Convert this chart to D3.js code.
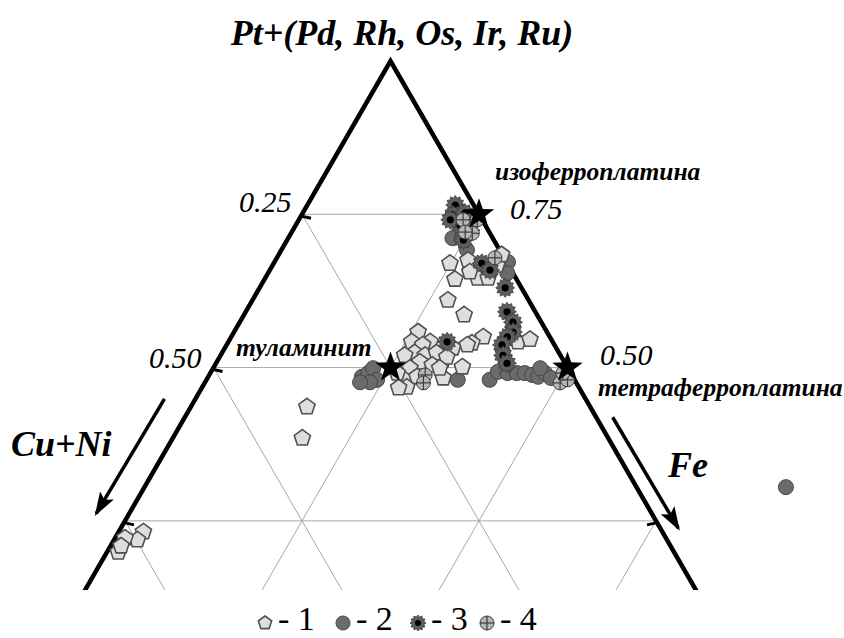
<!DOCTYPE html>
<html>
<head>
<meta charset="utf-8">
<script src="https://cdn.jsdelivr.net/npm/d3@7"></script>
<style>
    body { margin: 0; background: #fff; }
    text { font-family: "Liberation Serif", "Times New Roman", serif; }
</style>
</head>
<body>
<div id="chart"></div>
<script>
// ------------------------------ DATA (Pt, Fe; Cu+Ni = 1 - Pt - Fe) ------------------------------
var series1Pt = [0.670, 0.644, 0.610, 0.586, 0.670, 0.646, 0.675, 0.656, 0.667, 0.684, 0.646,
                 0.550, 0.540, 0.542, 0.546, 0.501, 0.483, 0.512, 0.532, 0.537,
                 0.558, 0.542, 0.542, 0.537, 0.524, 0.520, 0.524, 0.517, 0.520, 0.509, 0.504,
                 0.499, 0.499, 0.480, 0.485, 0.468, 0.491, 0.467,
                 0.436, 0.385, 0.232, 0.219, 0.222, 0.199, 0.209];
var series1Fe = [0.249, 0.269, 0.276, 0.311, 0.277, 0.300, 0.272, 0.284, 0.317, 0.315, 0.315,
                 0.356, 0.345, 0.409, 0.424, 0.351, 0.333, 0.318, 0.322, 0.340,
                 0.260, 0.285, 0.259, 0.277, 0.272, 0.289, 0.303, 0.321, 0.260, 0.287, 0.307,
                 0.320, 0.278, 0.280, 0.295, 0.289, 0.264, 0.278,
                 0.164, 0.183, 0.035, 0.033, 0.014, 0.016, 0.015];

var series2Pt = [0.711, 0.692, 0.711, 0.672, 0.654,
                 0.480, 0.480, 0.493, 0.491, 0.491, 0.491, 0.488, 0.485, 0.491, 0.499, 0.480, 0.483,
                 0.485, 0.491, 0.499, 0.480, 0.476, 0.476, 0.305];
var series2Fe = [0.232, 0.262, 0.245, 0.330, 0.338,
                 0.355, 0.400, 0.405, 0.420, 0.433, 0.444, 0.456, 0.466, 0.473, 0.462, 0.497, 0.485,
                 0.217, 0.223, 0.226, 0.241, 0.233, 0.219, 0.906];

var series3Pt = [0.765, 0.749, 0.732, 0.752, 0.724, 0.741, 0.708, 0.670, 0.659, 0.630,
                 0.591, 0.574, 0.558, 0.550, 0.537, 0.520, 0.507, 0.542];
var series3Fe = [0.209, 0.214, 0.232, 0.229, 0.251, 0.214, 0.249, 0.294, 0.311, 0.347,
                 0.369, 0.386, 0.394, 0.390, 0.389, 0.399, 0.411, 0.309];

var series4Pt = [0.741, 0.719, 0.721, 0.741, 0.679, 0.475, 0.480, 0.491, 0.488, 0.475];
var series4Fe = [0.232, 0.256, 0.245, 0.252, 0.308, 0.502, 0.510, 0.498, 0.305, 0.309];

var mineralNames = ["изоферроплатина", "туламинит", "тетраферроплатина"];
var mineralPt = [0.75, 0.50, 0.50];
var mineralFe = [0.25, 0.25, 0.50];

var gridValues = [0.25, 0.50, 0.75];
var legendLabels = ["1", "2", "3", "4"];

// ------------------------------ PLOTTING CONFIG -------------------------------
var width = 844,
    height = 638,
    apexX = 390.5,
    apexY = 61,
    sideLength = 708,
    triHeight = sideLength * Math.sqrt(3) / 2,
    clipBottom = 590;

// Pt -> vertical position, (Fe - Cu) -> horizontal position
var yScale = d3.scaleLinear().domain([0, 1]).range([apexY + triHeight, apexY]);
var xScale = d3.scaleLinear().domain([-1, 1]).range([apexX - sideLength / 2, apexX + sideLength / 2]);

function proj(pt, fe) {
    var cu = 1 - pt - fe;
    return [xScale(fe - cu), yScale(pt)];
}

function zipSeries(pts, fes) {
    return pts.map(function (p, i) { return proj(p, fes[i]); });
}

var svg = d3.select("#chart")
    .append("svg")
    .attr("width", width)
    .attr("height", height);

var defs = svg.append("defs");
defs.append("clipPath")
    .attr("id", "clip")
    .append("rect")
    .attr("x", 0).attr("y", 0)
    .attr("width", width).attr("height", clipBottom);

defs.append("marker")
    .attr("id", "arrow")
    .attr("viewBox", "0 0 24 16")
    .attr("preserveAspectRatio", "none")
    .attr("refX", 21).attr("refY", 8)
    .attr("markerWidth", 24).attr("markerHeight", 16)
    .attr("markerUnits", "userSpaceOnUse")
    .attr("orient", "auto")
    .append("path")
    .attr("d", "M0,0 L24,8 L0,16 L5,8 Z")
    .attr("fill", "#000");

// ------------------------------------ GRID -------------------------------------
var gridG = svg.append("g").attr("clip-path", "url(#clip)");
var gridLines = [];
gridValues.forEach(function (v) {
    gridLines.push([proj(v, 0), proj(v, 1 - v)]);        // Pt const
    gridLines.push([proj(1 - v, v), proj(0, v)]);        // Fe const
    gridLines.push([proj(1 - v, 0), proj(0, 1 - v)]);    // Cu+Ni const
});
gridG.selectAll("line.grid")
    .data(gridLines)
    .enter()
    .append("line")
    .attr("class", "grid")
    .attr("x1", function (d) { return d[0][0]; })
    .attr("y1", function (d) { return d[0][1]; })
    .attr("x2", function (d) { return d[1][0]; })
    .attr("y2", function (d) { return d[1][1]; })
    .attr("stroke", "#a8a8a8")
    .attr("stroke-width", 1);

// triangle sides
gridG.append("path")
    .attr("d", d3.line()([proj(0, 0), proj(1, 0), proj(0, 1)]))
    .attr("fill", "none")
    .attr("stroke", "#000")
    .attr("stroke-width", 4.5)
    .attr("stroke-linejoin", "miter");

// small ticks on the sides
var tickData = [[0.75, 0], [0.5, 0], [0.25, 0], [0.5, 0.5], [0.25, 0.75]];
svg.selectAll("line.tick")
    .data(tickData)
    .enter()
    .append("line")
    .attr("class", "tick")
    .attr("x1", function (d) { return proj(d[0], d[1])[0]; })
    .attr("y1", function (d) { return proj(d[0], d[1])[1] + 2; })
    .attr("x2", function (d) { return proj(d[0], d[1])[0] + (d[1] === 0 ? 9 : -9); })
    .attr("y2", function (d) { return proj(d[0], d[1])[1] + 4; })
    .attr("stroke", "#000")
    .attr("stroke-width", 3);

// ------------------------------------ MARKERS -------------------------------------
function polygonPath(n, rOuter, rInner) {
    var pts = [];
    var count = rInner ? n * 2 : n;
    for (var i = 0; i < count; i++) {
        var a = -Math.PI / 2 + i * 2 * Math.PI / count;
        var r = (rInner && i % 2 === 1) ? rInner : rOuter;
        pts.push([r * Math.cos(a), r * Math.sin(a)]);
    }
    return d3.line()(pts) + "Z";
}

function drawCircle(g, r) {
    g.append("circle").attr("r", r)
        .attr("fill", "#6b6b6b").attr("stroke", "#464646").attr("stroke-width", 1);
}
function drawPentagon(g, r) {
    g.append("path").attr("d", polygonPath(5, r))
        .attr("fill", "#dedede").attr("stroke", "#505050").attr("stroke-width", 1.6);
}
function drawSun(g, r) {
    g.append("path").attr("d", polygonPath(12, r, r * 0.75))
        .attr("fill", "#5e5e5e").attr("stroke", "#3a3a3a").attr("stroke-width", 0.8);
    g.append("circle").attr("r", r * 0.38).attr("fill", "#000");
}
function drawCross(g, r) {
    g.append("circle").attr("r", r)
        .attr("fill", "#b5b5b5").attr("stroke", "#3c3c3c").attr("stroke-width", 1);
    g.append("line").attr("x1", -r).attr("x2", r).attr("y1", 0).attr("y2", 0)
        .attr("stroke", "#3c3c3c").attr("stroke-width", 1.2);
    g.append("line").attr("y1", -r).attr("y2", r).attr("x1", 0).attr("x2", 0)
        .attr("stroke", "#3c3c3c").attr("stroke-width", 1.2);
}

function plotSeries(coords, drawer, r) {
    svg.append("g").selectAll("g")
        .data(coords)
        .enter()
        .append("g")
        .attr("transform", function (d) { return "translate(" + d[0] + "," + d[1] + ")"; })
        .each(function () { drawer(d3.select(this), r); });
}

plotSeries(zipSeries(series2Pt, series2Fe), drawCircle, 7.5);
plotSeries(zipSeries(series1Pt, series1Fe), drawPentagon, 8.5);
plotSeries(zipSeries(series3Pt, series3Fe), drawSun, 9.5);
plotSeries(zipSeries(series4Pt, series4Fe), drawCross, 7);

// mineral stars
svg.append("g").selectAll("path")
    .data(zipSeries(mineralPt, mineralFe))
    .enter()
    .append("path")
    .attr("transform", function (d) { return "translate(" + d[0] + "," + d[1] + ")"; })
    .attr("d", polygonPath(5, 16, 6.5))
    .attr("fill", "#000");

// -------------------------------- LABELS ----------------------------------
svg.append("text")
    .attr("x", 402).attr("y", 45)
    .attr("text-anchor", "middle")
    .attr("font-size", 36).attr("font-weight", "bold").attr("font-style", "italic")
    .text("Pt+(Pd, Rh, Os, Ir, Ru)");

var tickLabels = [
    {t: "0.25", x: 239, y: 212},
    {t: "0.75", x: 510, y: 219},
    {t: "0.50", x: 149, y: 368},
    {t: "0.50", x: 600, y: 365}
];
svg.selectAll("text.tlab")
    .data(tickLabels)
    .enter()
    .append("text")
    .attr("class", "tlab")
    .attr("x", function (d) { return d.x; })
    .attr("y", function (d) { return d.y; })
    .attr("font-size", 30).attr("font-style", "italic")
    .text(function (d) { return d.t; });

var mineralLabelPos = [[495, 180], [236, 356], [598, 396]];
svg.selectAll("text.mlab")
    .data(mineralNames)
    .enter()
    .append("text")
    .attr("class", "mlab")
    .attr("x", function (d, i) { return mineralLabelPos[i][0]; })
    .attr("y", function (d, i) { return mineralLabelPos[i][1]; })
    .attr("font-size", 25.5).attr("font-weight", "bold").attr("font-style", "italic")
    .text(function (d) { return d; });

svg.append("text")
    .attr("x", 11).attr("y", 456)
    .attr("font-size", 36).attr("font-weight", "bold").attr("font-style", "italic")
    .text("Cu+Ni");
svg.append("text")
    .attr("x", 668).attr("y", 477)
    .attr("font-size", 36).attr("font-weight", "bold").attr("font-style", "italic")
    .text("Fe");

// axis direction arrows, parallel to the sides
function edgeOffset(p, dx) { return [p[0] + dx, p[1]]; }
var cuArrow = [edgeOffset(proj(0.449, 0), -31), edgeOffset(proj(0.262, 0), -33)];
var feArrow = [edgeOffset(proj(0.419, 0.581), 16.5), edgeOffset(proj(0.238, 0.762), 18)];
[cuArrow, feArrow].forEach(function (a) {
    svg.append("line")
        .attr("x1", a[0][0]).attr("y1", a[0][1])
        .attr("x2", a[1][0]).attr("y2", a[1][1])
        .attr("stroke", "#000").attr("stroke-width", 3.5)
        .attr("marker-end", "url(#arrow)");
});

// ------------------------------------ LEGEND -------------------------------------
var legendDrawers = [drawPentagon, drawCircle, drawSun, drawCross];
var legendX = [265, 343, 418, 487];
legendLabels.forEach(function (lab, i) {
    var g = svg.append("g").attr("transform", "translate(" + legendX[i] + ",623)");
    legendDrawers[i](g, i === 2 ? 8 : 7);
    svg.append("text")
        .attr("x", legendX[i] + 13).attr("y", 630)
        .attr("font-size", 34)
        .text("- " + lab);
});
</script>
</body>
</html>
